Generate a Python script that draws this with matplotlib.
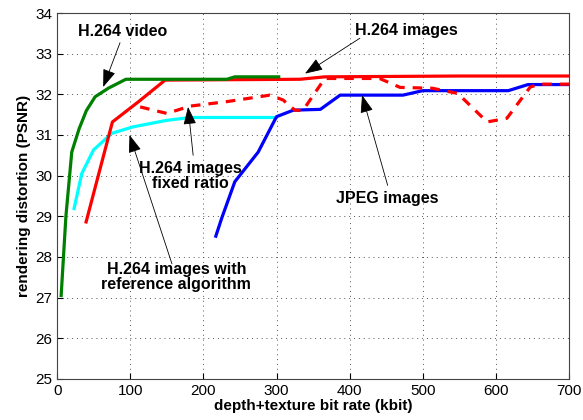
import numpy as np
import matplotlib
matplotlib.use('Agg')
import matplotlib.pyplot as plt

plt.rcParams['font.family'] = ['Liberation Sans', 'DejaVu Sans']

# H.264 video
video_x = [5.5, 12, 20, 30, 40, 52, 70, 94, 150, 232, 243, 303]
video_y = [27.05, 29.0, 30.58, 31.15, 31.6, 31.94, 32.15, 32.37, 32.37, 32.37, 32.43, 32.43]

# H.264 images
img_x = [39.6, 75.6, 110, 147.7, 332, 366, 551, 700]
img_y = [28.86, 31.32, 31.8, 32.35, 32.37, 32.43, 32.45, 32.45]

# H.264 images fixed ratio
fix_x = [113.5, 150, 182, 232, 291, 309, 325, 336, 366, 441, 469, 513, 548, 588, 615, 647, 660, 700]
fix_y = [31.69, 31.53, 31.71, 31.82, 31.98, 31.86, 31.61, 31.6, 32.39, 32.39, 32.17, 32.15, 32.02, 31.32, 31.41, 32.18, 32.25, 32.25]

# H.264 images with reference algorithm
ref_x = [23.2, 33.7, 49.7, 74.7, 104, 150, 182, 300]
ref_y = [29.19, 30.05, 30.63, 31.04, 31.2, 31.36, 31.43, 31.43]

# JPEG images
jpeg_x = [217, 225, 243, 275, 300, 323, 360, 387, 473, 500, 617, 644, 700]
jpeg_y = [28.51, 28.95, 29.85, 30.58, 31.45, 31.61, 31.63, 31.98, 31.98, 32.09, 32.09, 32.24, 32.24]

fig = plt.figure(figsize=(5.83, 4.2), dpi=100)
ax = fig.add_axes([0.098, 0.098, 0.878, 0.871])

lw = 2.3
ax.plot(ref_x, ref_y, color='#00ffff', lw=lw)
ax.plot(img_x, img_y, color='#ff0000', lw=lw)
ax.plot(jpeg_x, jpeg_y, color='#0000ff', lw=lw)
ax.plot(fix_x, fix_y, color='#ff0000', lw=lw, ls=(0, (3, 2.5)))
ax.plot(video_x, video_y, color='#008000', lw=lw)

ax.set_xlim(0, 700)
ax.set_ylim(25, 34)
ax.set_xticks(np.arange(0, 701, 100))
ax.set_yticks(np.arange(25, 35, 1))
ax.grid(True, ls=(0, (1, 4)), color='#555555', lw=0.7)
ax.tick_params(direction='in', labelsize=11, length=4)
for s in ax.spines.values():
    s.set_color('#444444')
    s.set_linewidth(0.8)

ax.set_xlabel('depth+texture bit rate (kbit)', fontsize=11, fontweight='bold', labelpad=1)
ax.set_ylabel('rendering distortion (PSNR)', fontsize=11, fontweight='bold', labelpad=3)

arrow = dict(arrowstyle='-|>,head_length=1.1,head_width=0.4', color='black', lw=0.6,
             shrinkA=0, shrinkB=0)
tk = dict(fontsize=11.5, fontweight='bold', ha='center', va='center', linespacing=1.0)

labels = [
    ('H.264 video', (89, 33.55), (86, 33.27), (63, 32.18)),
    ('H.264 images', (478, 33.56), (414, 33.38), (339, 32.51)),
    ('H.264 images\nfixed ratio', (182, 30.0), (186, 30.5), (179, 31.69)),
    ('JPEG images', (452, 29.44), (452, 29.76), (417, 31.98)),
    ('H.264 images with\nreference algorithm', (163, 27.5), (157, 27.83), (99, 31.0)),
]
for txt, pos, start, tip in labels:
    ax.text(pos[0], pos[1], txt, **tk)
    ax.annotate('', xy=tip, xytext=start, arrowprops=arrow)

fig.savefig('out.png', dpi=100)
